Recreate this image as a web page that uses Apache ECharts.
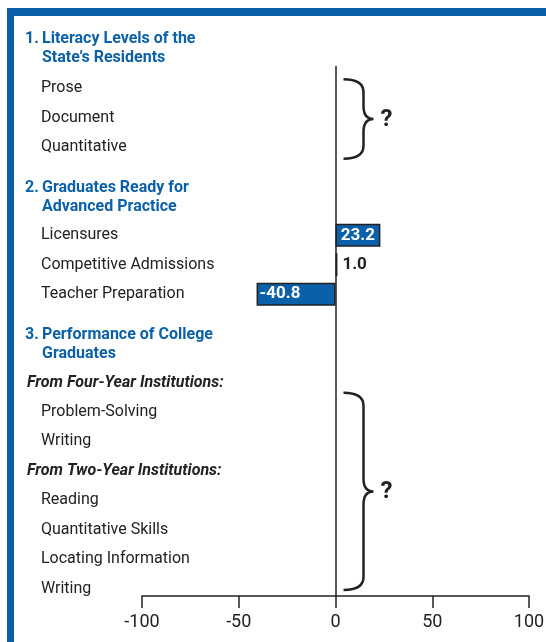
<!DOCTYPE html>
<html>
<head>
<meta charset="utf-8">
<script src="https://cdn.jsdelivr.net/npm/echarts@6/dist/echarts.min.js"></script>
<style>
    body { margin: 0; background: #fff; }
    #frame {
        position: absolute; left: 7px; top: 8px; width: 539px; height: 634px;
        box-sizing: border-box; border-top: 8px solid #0b60aa; border-left: 7px solid #0b60aa;
    }
    #chart { position: absolute; left: 0; top: 0; width: 546px; height: 642px; }
</style>
</head>
<body>
<div id="frame"></div>
<div id="chart"></div>
<script>
var sectionTitles = [
    '1. Literacy Levels of the\nState\u2019s Residents',
    '2. Graduates Ready for\nAdvanced Practice',
    '3. Performance of College\nGraduates'
];
var literacyRows = ['Prose', 'Document', 'Quantitative'];
var readyRows = ['Licensures', 'Competitive Admissions', 'Teacher Preparation'];
var readyValues = [23.2, 1.0, -40.8];
var fourYearLabel = 'From Four-Year Institutions:';
var fourYearRows = ['Problem-Solving', 'Writing'];
var twoYearLabel = 'From Two-Year Institutions:';
var twoYearRows = ['Reading', 'Quantitative Skills', 'Locating Information', 'Writing'];
var xMin = -100, xMax = 100, xStep = 50;

var BLUE = '#0b60aa';
var INK = '#222';
var FONT = 'Roboto, "DejaVu Sans Condensed", sans-serif';
var GRID_LEFT = 142, TEXT_LEFT = 25;

// half-row bands on the category axis, headers take extra room
var bands = [{text: '', kind: 'gap', section: 0}];
var lastKind = null;
function addBand(text, kind, section, value) {
    if (lastKind !== null) {
        var gaps = (kind === 'head' || lastKind === 'head') ? 2 : 1;
        for (var g = 0; g < gaps; g++) bands.push({text: '', kind: 'gap', section: section});
    }
    bands.push({text: text, kind: kind, section: section, value: value});
    lastKind = kind;
}
literacyRows.forEach(function (r) { addBand(r, 'row', 1); });
addBand(sectionTitles[1], 'head', 2);
readyRows.forEach(function (r, i) { addBand(r, 'row', 2, readyValues[i]); });
addBand(sectionTitles[2], 'head', 3);
addBand(fourYearLabel, 'sub', 3);
fourYearRows.forEach(function (r) { addBand(r, 'row', 3); });
addBand(twoYearLabel, 'sub', 3);
twoYearRows.forEach(function (r) { addBand(r, 'row', 3); });

function headRich(t, spacer) {
    var lines = t.split('\n');
    var m = lines[0].match(/^(\d+\.\s*)(.*)$/);
    return (spacer ? '{sp| }\n' : '') +
        '{hn|' + m[1] + '}{h|' + m[2] + '}\n{hn| }{h|' + lines[1] + '}';
}

var barData = bands.map(function (b) {
    if (b.value == null) return null;
    var small = Math.abs(b.value) < 5;
    return {
        value: b.value,
        label: {
            position: small ? 'right' : (b.value > 0 ? 'inside' : 'insideLeft'),
            color: small ? INK : '#fff',
            distance: small ? 5 : 3
        }
    };
});

// sections without numbers get a brace with a question mark
// [x, first band, last band, 1 if the section opens with a sub-heading]
var braceData = [];
[1, 3].forEach(function (s) {
    var idx = [];
    bands.forEach(function (b, i) { if (b.section === s && (b.kind === 'row' || b.kind === 'sub')) idx.push(i); });
    braceData.push([0, idx[0], idx[idx.length - 1], bands[idx[0]].kind === 'sub' ? 1 : 0]);
});

var headStyle = {fontFamily: FONT, fontSize: 16, fontWeight: 'bold', color: BLUE, lineHeight: 19};
var rich = {
    sp: {fontSize: 1, lineHeight: 12},
    hn: Object.assign({}, headStyle, {width: 17}),
    h: headStyle,
    ri: {width: 16, fontSize: 16},
    r: {fontFamily: FONT, fontSize: 16, color: INK},
    si: {width: 2, fontSize: 16},
    s: {fontFamily: FONT, fontSize: 16, color: INK, fontWeight: 'bold', fontStyle: 'italic'}
};

var chart = echarts.init(document.getElementById('chart'));
var option = {
    animation: false,
    title: {
        text: headRich(sectionTitles[0], false),
        left: TEXT_LEFT,
        top: 29,
        padding: 0,
        textStyle: {rich: {hn: rich.hn, h: rich.h}}
    },
    grid: {left: GRID_LEFT, right: 17, top: 66, bottom: 46, outerBoundsMode: 'none', containLabel: false},
    xAxis: {
        type: 'value',
        min: xMin, max: xMax, interval: xStep,
        splitLine: {show: false},
        axisLine: {show: true, onZero: false, lineStyle: {color: INK, width: 1.5}},
        axisTick: {show: true, length: 12, lineStyle: {color: INK, width: 1.5}},
        axisLabel: {fontFamily: FONT, fontSize: 18, color: INK, margin: 17}
    },
    yAxis: {
        type: 'category',
        inverse: true,
        data: bands.map(function (b) { return b.text; }),
        axisTick: {show: false},
        axisLine: {show: false, onZero: false},
        axisLabel: {
            interval: 0,
            align: 'left',
            margin: GRID_LEFT - TEXT_LEFT,
            rich: rich,
            formatter: function (v, i) {
                var b = bands[i];
                if (!b || !b.text) return '';
                if (b.kind === 'head') return headRich(b.text, true);
                if (b.kind === 'sub') return '{si| }{s|' + b.text + '}';
                return '{ri| }{r|' + b.text + '}';
            }
        }
    },
    series: [
        {
            type: 'bar',
            data: barData,
            barWidth: 23,
            itemStyle: {color: BLUE, borderColor: INK, borderWidth: 1.5},
            label: {
                show: true,
                fontFamily: FONT,
                fontSize: 17,
                fontWeight: 'bold',
                formatter: function (p) { return p.value.toFixed(1); }
            },
            markLine: {
                silent: true,
                symbol: 'none',
                label: {show: false},
                lineStyle: {color: INK, width: 1.5, type: 'solid'},
                data: [{xAxis: 0}]
            }
        },
        {
            type: 'custom',
            data: braceData,
            encode: {x: 0, y: [1, 2]},
            renderItem: function (params, api) {
                var a = api.coord([0, api.value(1)]);
                var b = api.coord([0, api.value(2)]);
                var band = api.size([0, 1])[1];
                var bottomLimit = params.coordSys.y + params.coordSys.height - 6;
                var yt = api.value(3) ? a[1] + band * 0.7 : a[1] - band * 0.6;
                var yb = Math.min(b[1] + band * 0.8, bottomLimit);
                var ym = (yt + yb) / 2;
                var x0 = a[0] + 8, x1 = a[0] + 28, x2 = a[0] + 38, r = 13;
                var d = 'M' + x0 + ' ' + yt +
                    ' Q' + x1 + ' ' + yt + ' ' + x1 + ' ' + (yt + r) +
                    ' L' + x1 + ' ' + (ym - r) +
                    ' Q' + x1 + ' ' + ym + ' ' + x2 + ' ' + ym +
                    ' Q' + x1 + ' ' + ym + ' ' + x1 + ' ' + (ym + r) +
                    ' L' + x1 + ' ' + (yb - r) +
                    ' Q' + x1 + ' ' + yb + ' ' + x0 + ' ' + yb;
                return {
                    type: 'group',
                    children: [
                        {type: 'path', shape: {pathData: d}, style: {fill: 'none', stroke: INK, lineWidth: 2.5}},
                        {type: 'text', style: {text: '?', x: x2 + 7, y: ym + 1, verticalAlign: 'middle',
                            fontFamily: FONT, fontSize: 24, fontWeight: 'bold', fill: INK}}
                    ]
                };
            }
        }
    ]
};
chart.setOption(option);
</script>
</body>
</html>
